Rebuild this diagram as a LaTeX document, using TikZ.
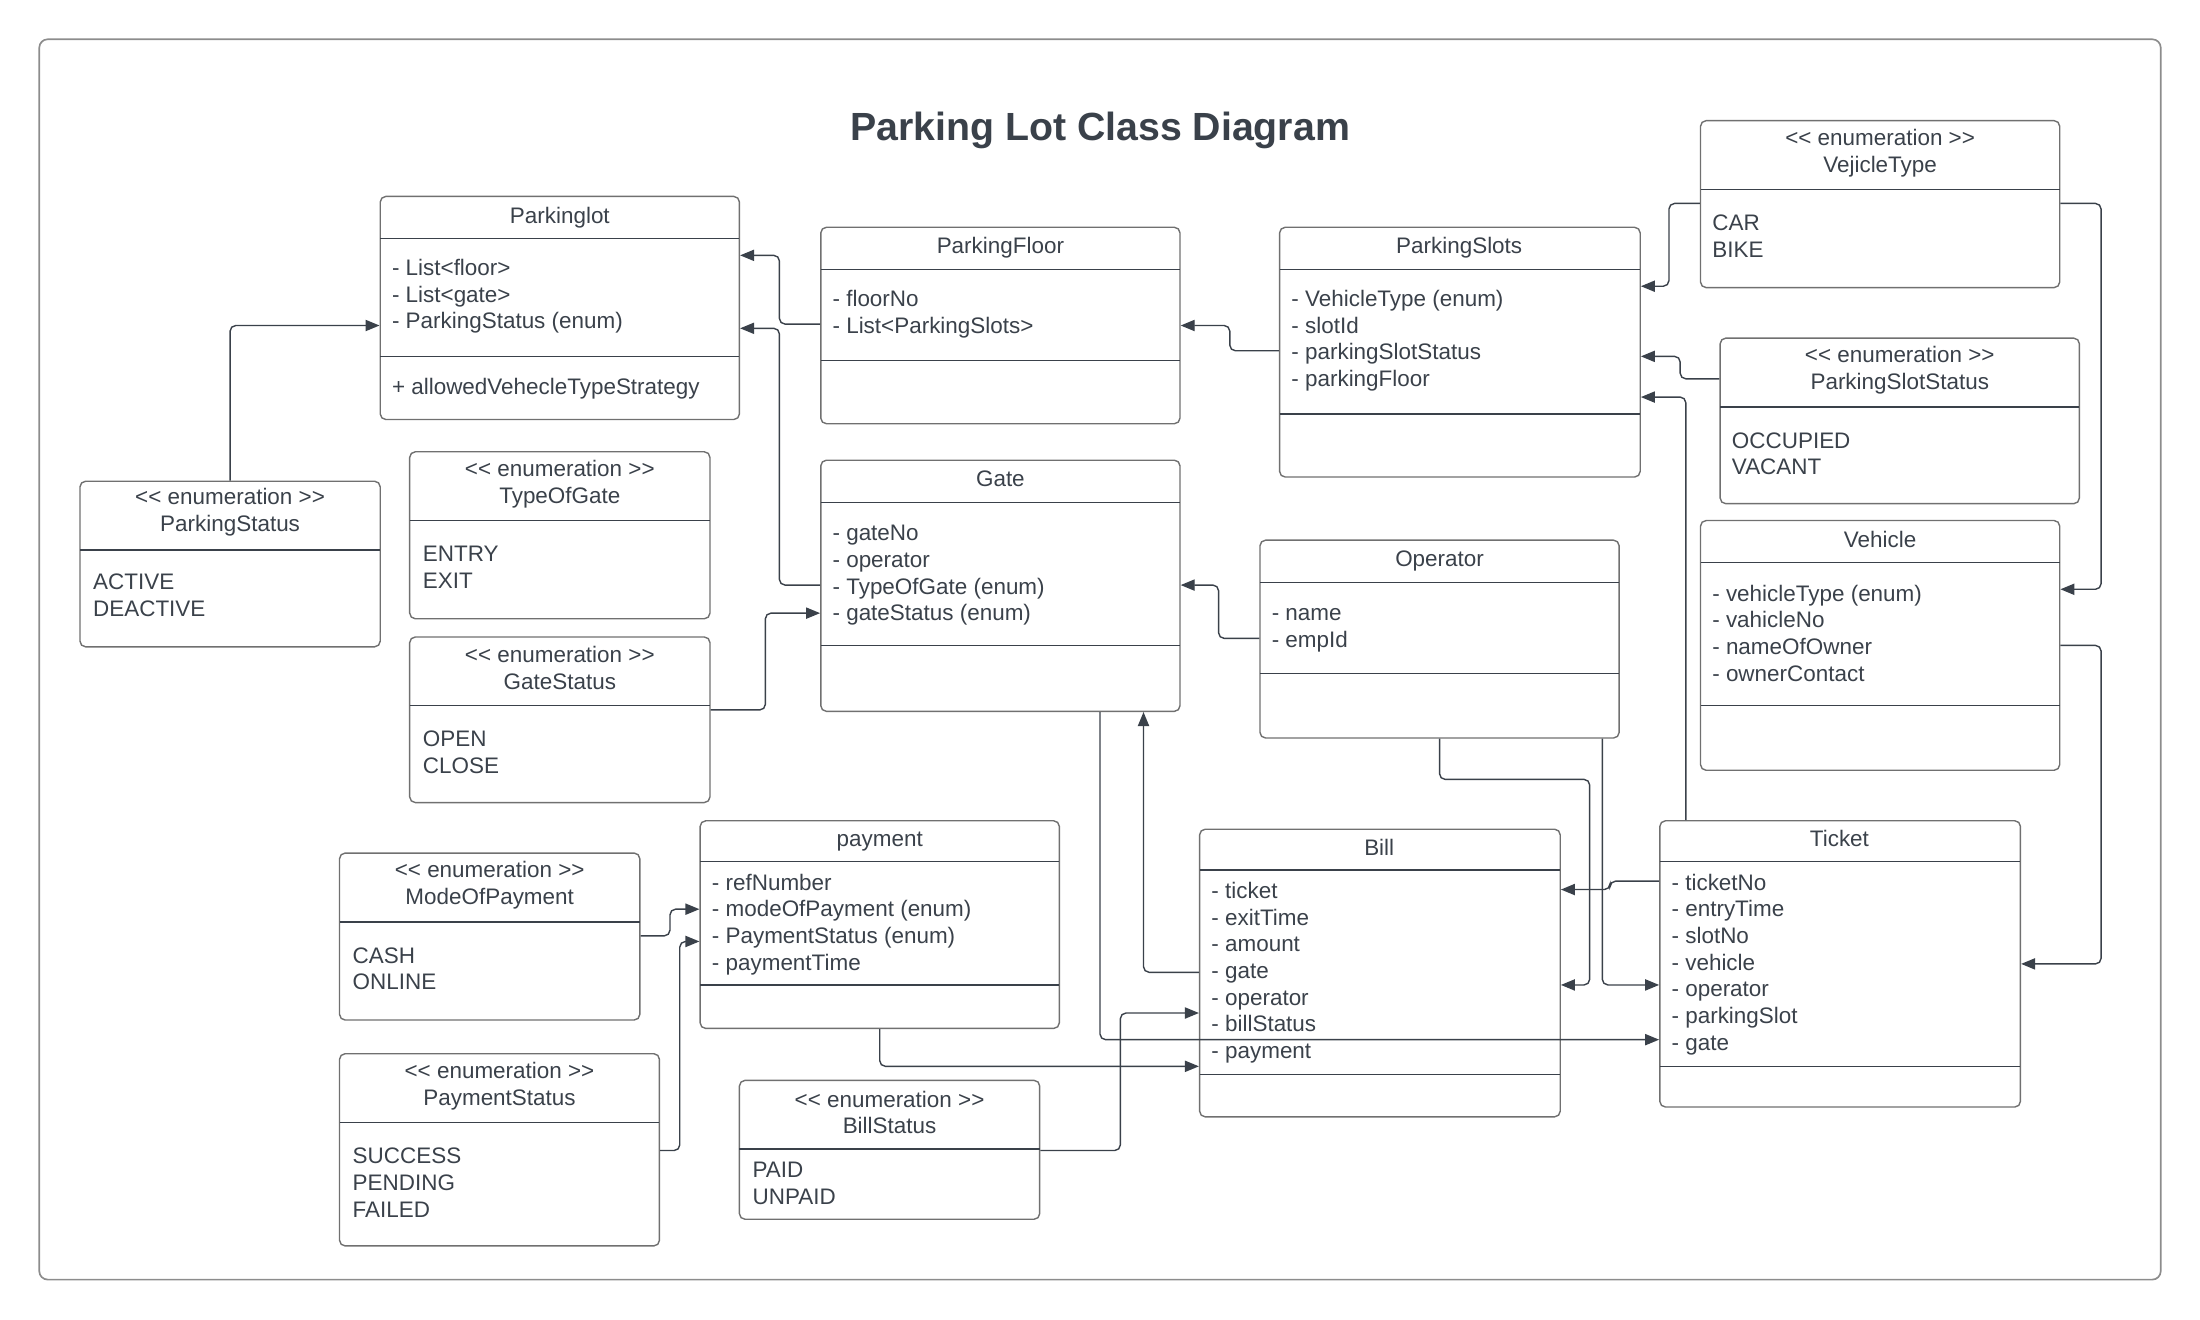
\documentclass[tikz,border=0pt]{standalone}
\usepackage{fontspec}
\newfontfamily\lucid{Liberation Sans}
\usetikzlibrary{arrows.meta, positioning, fit, calc}
\definecolor{ink}{HTML}{3A414A}
\definecolor{edge}{HTML}{707070}
\definecolor{framegray}{HTML}{8C8C8C}

\begin{document}
\begin{tikzpicture}[x=0.5pt, y=-0.5pt,
    every node/.style={font=\lucid\fontsize{8}{9.5}\selectfont, text=ink, inner sep=0pt},
    box/.style={draw=edge, line width=0.5pt, rounded corners=2pt},
    rule/.style={draw=ink, line width=0.5pt},
    row/.style={anchor=west, text height=6pt, text depth=2pt, yshift=-1.2pt},
    classname/.style={text height=6pt, text depth=2pt},
    head/.style={align=center},
    link/.style={draw=ink, line width=0.5pt, rounded corners=2pt, -{Triangle[length=5pt, width=4pt]}}]
    \useasboundingbox (0,0) rectangle (1568,940.8);
    \draw[framegray, line width=0.6pt, rounded corners=3pt] (28,28) rectangle (1540,912);
    \node[font=\lucid\fontsize{14}{17}\selectfont\bfseries] (title) at (784,93) {Parking Lot Class Diagram};

    % classes
    \node[box, fit={(271,140) (527,299)}] (lot) {};
    \draw[rule] (271,170) -- (527,170) (271,254) -- (527,254);
    \node[classname] (lot-h) at (399,155) {Parkinglot};
    \foreach \t [count=\i from 0] in {- List<floor>, - List<gate>, - ParkingStatus (enum)}
        \node[row] (lot-\i) at (279,{190+19*\i}) {\t};
    \node[row] (lot-m) at (279,275) {+ allowedVehecleTypeStrategy};

    \node[box, fit={(585,162) (841,302)}] (floor) {};
    \draw[rule] (585,192) -- (841,192) (585,257) -- (841,257);
    \node[classname] (floor-h) at (713,177) {ParkingFloor};
    \foreach \t [count=\i from 0] in {- floorNo, - List<ParkingSlots>}
        \node[row] (floor-\i) at (593,{212+19*\i}) {\t};

    \node[box, fit={(912,162) (1169,340)}] (slots) {};
    \draw[rule] (912,192) -- (1169,192) (912,295) -- (1169,295);
    \node[classname] (slots-h) at (1040,177) {ParkingSlots};
    \foreach \t [count=\i from 0] in {- VehicleType (enum), - slotId, - parkingSlotStatus, - parkingFloor}
        \node[row] (slots-\i) at (920,{212+19*\i}) {\t};

    \node[box, fit={(1212,86) (1468,205)}] (vt) {};
    \draw[rule] (1212,135) -- (1468,135);
    \node[head] (vt-h) at (1340,109) {<< enumeration >>\\VejicleType};
    \foreach \t [count=\i from 0] in {CAR, BIKE}
        \node[row] (vt-\i) at (1220,{158+19*\i}) {\t};

    \node[box, fit={(1226,241) (1482,359)}] (sst) {};
    \draw[rule] (1226,290) -- (1482,290);
    \node[head] (sst-h) at (1354,264) {<< enumeration >>\\ParkingSlotStatus};
    \foreach \t [count=\i from 0] in {OCCUPIED, VACANT}
        \node[row] (sst-\i) at (1234,{313+19*\i}) {\t};

    \node[box, fit={(1212,371) (1468,549)}] (veh) {};
    \draw[rule] (1212,401) -- (1468,401) (1212,503) -- (1468,503);
    \node[classname] (veh-h) at (1340,386) {Vehicle};
    \foreach \t [count=\i from 0] in {- vehicleType (enum), - vahicleNo, - nameOfOwner, - ownerContact}
        \node[row] (veh-\i) at (1220,{422+19*\i}) {\t};

    \node[box, fit={(57,343) (271,461)}] (pst) {};
    \draw[rule] (57,392) -- (271,392);
    \node[head] (pst-h) at (164,365) {<< enumeration >>\\ParkingStatus};
    \foreach \t [count=\i from 0] in {ACTIVE, DEACTIVE}
        \node[row] (pst-\i) at (66,{414+19*\i}) {\t};

    \node[box, fit={(292,322) (506,441)}] (gty) {};
    \draw[rule] (292,371) -- (506,371);
    \node[head] (gty-h) at (399,345) {<< enumeration >>\\TypeOfGate};
    \foreach \t [count=\i from 0] in {ENTRY, EXIT}
        \node[row] (gty-\i) at (301,{394+19*\i}) {\t};

    \node[box, fit={(292,454) (506,572)}] (gst) {};
    \draw[rule] (292,503) -- (506,503);
    \node[head] (gst-h) at (399,476) {<< enumeration >>\\GateStatus};
    \foreach \t [count=\i from 0] in {OPEN, CLOSE}
        \node[row] (gst-\i) at (301,{526+19*\i}) {\t};

    \node[box, fit={(585,328) (841,507)}] (gate) {};
    \draw[rule] (585,358) -- (841,358) (585,460) -- (841,460);
    \node[classname] (gate-h) at (713,343) {Gate};
    \foreach \t [count=\i from 0] in {- gateNo, - operator, - TypeOfGate (enum), - gateStatus (enum)}
        \node[row] (gate-\i) at (593,{379+19*\i}) {\t};

    \node[box, fit={(898,385) (1154,526)}] (oper) {};
    \draw[rule] (898,415) -- (1154,415) (898,480) -- (1154,480);
    \node[classname] (oper-h) at (1026,400) {Operator};
    \foreach \t [count=\i from 0] in {- name, - empId}
        \node[row] (oper-\i) at (906,{436+19*\i}) {\t};

    \node[box, fit={(499,585) (755,733)}] (pay) {};
    \draw[rule] (499,614) -- (755,614) (499,702) -- (755,702);
    \node[classname] (pay-h) at (627,599) {payment};
    \foreach \t [count=\i from 0] in {- refNumber, - modeOfPayment (enum), - PaymentStatus (enum), - paymentTime}
        \node[row] (pay-\i) at (507,{628+19*\i}) {\t};

    \node[box, fit={(242,608) (456,727)}] (mop) {};
    \draw[rule] (242,657) -- (456,657);
    \node[head] (mop-h) at (349,631) {<< enumeration >>\\ModeOfPayment};
    \foreach \t [count=\i from 0] in {CASH, ONLINE}
        \node[row] (mop-\i) at (251,{680+19*\i}) {\t};

    \node[box, fit={(242,751) (470,888)}] (pys) {};
    \draw[rule] (242,800) -- (470,800);
    \node[head] (pys-h) at (356,774) {<< enumeration >>\\PaymentStatus};
    \foreach \t [count=\i from 0] in {SUCCESS, PENDING, FAILED}
        \node[row] (pys-\i) at (251,{823+19*\i}) {\t};

    \node[box, fit={(527,770) (741,869)}] (bst) {};
    \draw[rule] (527,819) -- (741,819);
    \node[head] (bst-h) at (634,793) {<< enumeration >>\\BillStatus};
    \foreach \t [count=\i from 0] in {PAID, UNPAID}
        \node[row] (bst-\i) at (536,{833+19*\i}) {\t};

    \node[box, fit={(855,591) (1112,796)}] (bill) {};
    \draw[rule] (855,620) -- (1112,620) (855,766) -- (1112,766);
    \node[classname] (bill-h) at (983,606) {Bill};
    \foreach \t [count=\i from 0] in {- ticket, - exitTime, - amount, - gate, - operator, - billStatus, - payment}
        \node[row] (bill-\i) at (863,{634+19*\i}) {\t};

    \node[box, fit={(1183,585) (1440,789)}] (ticket) {};
    \draw[rule] (1183,614) -- (1440,614) (1183,760) -- (1440,760);
    \node[classname] (ticket-h) at (1311,599) {Ticket};
    \foreach \t [count=\i from 0] in {- ticketNo, - entryTime, - slotNo, - vehicle, - operator, - parkingSlot, - gate}
        \node[row] (ticket-\i) at (1191,{628+19*\i}) {\t};

    % connectors
    \draw[link] (pst.north) |- (lot.west |- 0,232);
    \draw[link] (floor.west |- 0,231) -- ++(-29,0) |- (lot.east |- 0,182);
    \draw[link] (gate.west |- 0,417) -- ++(-29,0) |- (lot.east |- 0,234);
    \draw[link] (gst.east |- 0,506) -- ++(39,0) |- (gate.west |- 0,437);
    \draw[link] (slots.west |- 0,250) -- ++(-35,0) |- (floor.east |- 0,232);
    \draw[link] (vt.west |- 0,145) -- ++(-22,0) |- (slots.east |- 0,204);
    \draw[link] (sst.west |- 0,270) -- ++(-28,0) |- (slots.east |- 0,254);
    \draw[link] ($(ticket.north west)+(19,0)$) |- (slots.east |- 0,283);
    \draw[link] (vt.east |- 0,145) -- ++(29,0) |- (veh.east |- 0,420);
    \draw[link] (veh.east |- 0,460) -- ++(29,0) |- (ticket.east |- 0,687);
    \draw[link] (oper.west |- 0,455) -- ++(-29,0) |- (gate.east |- 0,417);
    \draw[link] (bill.west |- 0,693) -| (gate.south -| 815,0);
    \draw[link] (gate.south -| 784,0) |- (ticket.west |- 0,741);
    \draw[link] (oper.south) -- ++(0,29) -| (1133,650) |- (bill.east |- 0,702);
    \draw[link] (oper.south -| 1142,0) |- (ticket.west |- 0,702);
    \draw[link] (ticket.west |- 0,628) -- ++(-35,0) |- (bill.east |- 0,634);
    \draw[link] (mop.east |- 0,667) -- ++(21,0) |- (pay.west |- 0,648);
    \draw[link] (pys.east |- 0,820) -- ++(14,0) |- (pay.west |- 0,671);
    \draw[link] (pay.south) |- (bill.west |- 0,760);
    \draw[link] (bst.east |- 0,820) -- ++(57,0) |- (bill.west |- 0,722);
\end{tikzpicture}
\end{document}
